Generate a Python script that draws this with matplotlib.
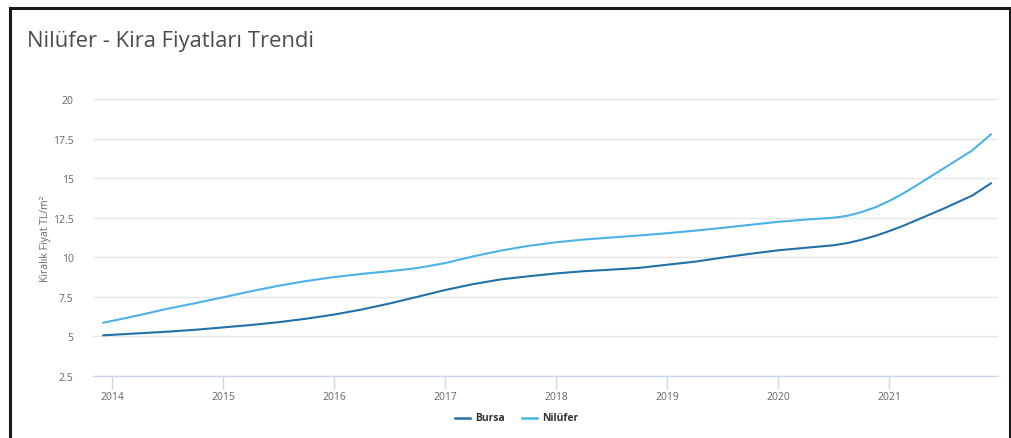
import matplotlib
matplotlib.use("Agg")
import matplotlib.pyplot as plt
from matplotlib.lines import Line2D

years = [2013.92, 2014.25, 2014.5, 2014.75, 2015.0, 2015.25, 2015.5, 2015.75,
         2016.0, 2016.25, 2016.5, 2016.75, 2017.0, 2017.25, 2017.5, 2017.75,
         2018.0, 2018.25, 2018.5, 2018.75, 2019.0, 2019.25, 2019.5, 2019.75,
         2020.0, 2020.25, 2020.5, 2020.625, 2020.75, 2020.875, 2021.0, 2021.125,
         2021.25, 2021.5, 2021.75, 2021.92]
bursa = [5.07, 5.20, 5.30, 5.42, 5.57, 5.72, 5.90, 6.12,
         6.38, 6.70, 7.08, 7.50, 7.93, 8.30, 8.60, 8.80,
         8.98, 9.12, 9.22, 9.33, 9.53, 9.72, 9.98, 10.22,
         10.44, 10.60, 10.76, 10.90, 11.10, 11.35, 11.65, 11.98,
         12.35, 13.10, 13.90, 14.68]
nilufer = [5.86, 6.35, 6.75, 7.10, 7.47, 7.85, 8.20, 8.50,
           8.75, 8.95, 9.12, 9.32, 9.63, 10.05, 10.42, 10.72,
           10.95, 11.12, 11.25, 11.38, 11.52, 11.68, 11.86, 12.05,
           12.24, 12.38, 12.50, 12.62, 12.85, 13.15, 13.55, 14.02,
           14.55, 15.65, 16.75, 17.78]
year_ticks = [2014, 2015, 2016, 2017, 2018, 2019, 2020, 2021]
y_ticks = [2.5, 5, 7.5, 10, 12.5, 15, 17.5, 20]
y_labels = ["2.5", "5", "7.5", "10", "12.5", "15", "17.5", "20"]

W, H = 1011, 439
fig = plt.figure(figsize=(W / 100, H / 100), dpi=100)
fig.patch.set_facecolor("white")
plt.rcParams['font.family'] = ['Open Sans', 'DejaVu Sans']

ax = fig.add_axes([93 / W, 1 - 377 / H, (998 - 93) / W, (377 - 100) / H])
ax.set_xlim(2013.829, 2021.982)
ax.set_ylim(2.5, 20)

c_bursa = "#2271a9"
c_nil = "#4ab2e8"
ax.plot(years, bursa, color=c_bursa, lw=1.5, solid_capstyle="round", solid_joinstyle="round")
ax.plot(years, nilufer, color=c_nil, lw=1.5, solid_capstyle="round", solid_joinstyle="round")

ax.set_yticks(y_ticks)
ax.set_yticklabels(y_labels)
ax.set_xticks(year_ticks)
ax.set_xticklabels([str(y) for y in year_ticks])
ax.grid(axis="y", color="#e6e6e6", lw=1)
ax.set_axisbelow(True)
for s in ["top", "right", "left"]:
    ax.spines[s].set_visible(False)
ax.spines["bottom"].set_color("#ccd6eb")
ax.spines["bottom"].set_linewidth(1)
ax.tick_params(axis="y", length=0, pad=14, labelsize=7.5, labelcolor="#666666")
ax.tick_params(axis="x", length=9, width=1, color="#ccd6eb", pad=2,
               labelsize=7.5, labelcolor="#666666")

ax.set_ylabel("Kiralık Fiyat TL/m²", fontsize=7.5, color="#666666", labelpad=1)

fig.text(27 / W, 1 - 42 / H, "Nilüfer - Kira Fiyatları Trendi", fontsize=15.8,
         color="#4d4d4d", ha="left", va="center")

# legend
ly = 1 - 419 / H
fig.add_artist(Line2D([455 / W, 470 / W], [ly, ly], color=c_bursa, lw=1.8, transform=fig.transFigure))
fig.text(475 / W, ly, "Bursa", fontsize=7.5, fontweight="bold", color="#333333", va="center", ha="left")
fig.add_artist(Line2D([522 / W, 537 / W], [ly, ly], color=c_nil, lw=1.8, transform=fig.transFigure))
fig.text(542 / W, ly, "Nilüfer", fontsize=7.5, fontweight="bold", color="#333333", va="center", ha="left")

# outer frame (open at bottom)
bc = "#1a1a1a"
lx0, lx1 = 9.5 / W, 1009.5 / W
ty = 1 - 8.5 / H
fig.add_artist(Line2D([lx0, lx0], [0, ty], color=bc, lw=2.2, transform=fig.transFigure))
fig.add_artist(Line2D([lx1, lx1], [0, ty], color=bc, lw=2.2, transform=fig.transFigure))
fig.add_artist(Line2D([lx0, lx1], [ty, ty], color=bc, lw=2.2, transform=fig.transFigure, solid_capstyle="projecting"))

fig.savefig("out.png", dpi=100)
